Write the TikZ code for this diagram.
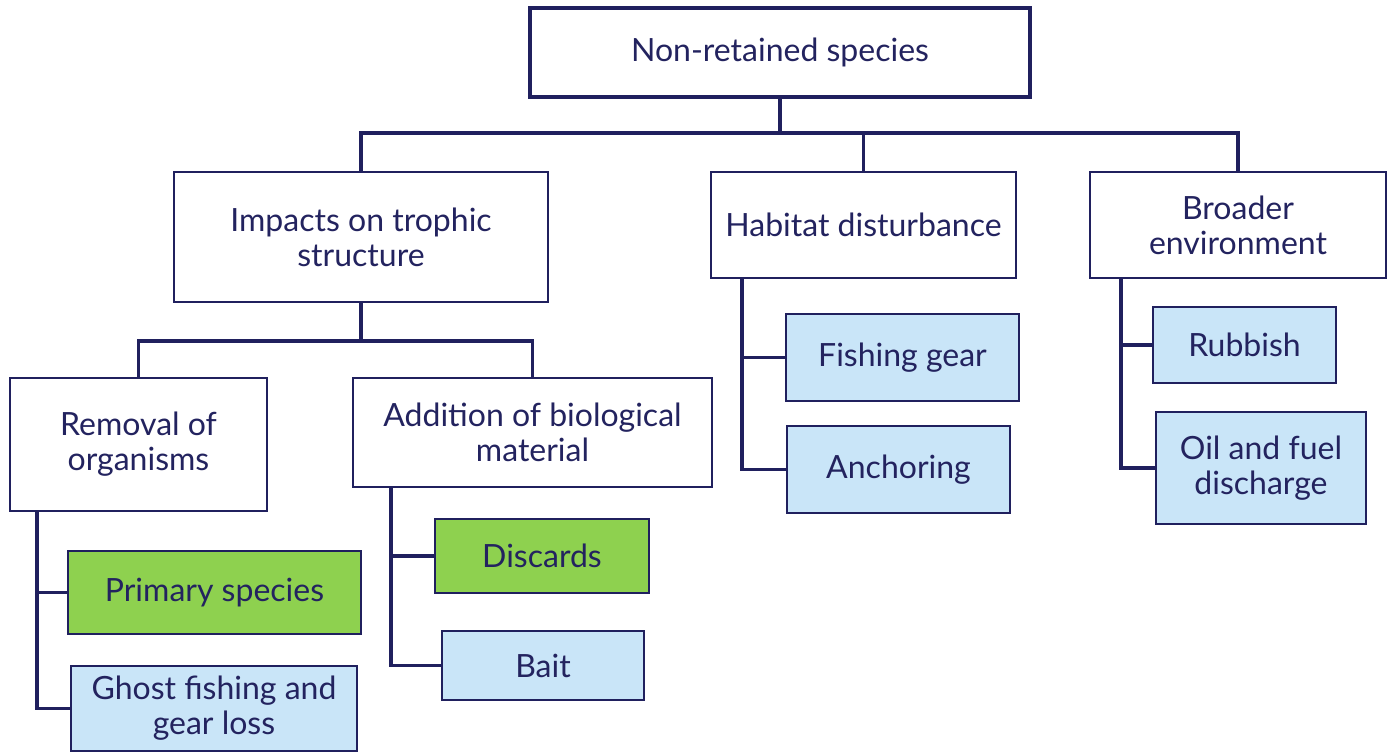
\documentclass[tikz,border=0pt]{standalone}
\usepackage{fontspec}
\setmainfont{Lato}
\definecolor{navy}{HTML}{20205E}
\definecolor{txt}{HTML}{23235F}
\definecolor{lgreen}{HTML}{8ED14F}
\definecolor{lblue}{HTML}{C9E5F8}
\tikzset{
  box/.style={draw=navy, line width=1.2pt, fill=white, inner sep=0pt, outer sep=0pt,
    align=center, text=txt, font=\fontsize{16}{17.5}\selectfont},
  gbox/.style={box, fill=lgreen},
  bbox/.style={box, fill=lblue},
  conn/.style={draw=navy, line width=1.7pt}
}
\begin{document}
\begin{tikzpicture}[x=0.5pt, y=-0.5pt]
\useasboundingbox (0,0) rectangle (1392,753);
\node[box, line width=1.6pt, minimum width=250pt, minimum height=44.5pt] (root) at (780,52.5) {Non-retained species};
\node[box, minimum width=187pt, minimum height=65pt] (imp) at (361,237) {Impacts on trophic\\structure};
\node[box, minimum width=152.5pt, minimum height=53pt] (hab) at (863.5,225) {Habitat disturbance};
\node[box, minimum width=148pt, minimum height=53pt] (bro) at (1238,225) {Broader\\environment};
\node[box, minimum width=128.5pt, minimum height=66.5pt] (rem) at (138.5,444.5) {Removal of\\organisms};
\node[box, minimum width=179.5pt, minimum height=54.5pt] (add) at (532.5,432.5) {Addition of biological\\material};
\node[gbox, minimum width=146.5pt, minimum height=41.5pt] (prim) at (214.5,592.5) {Primary species};
\node[bbox, minimum width=143pt, minimum height=42.5pt] (ghost) at (214,708.5) {Ghost fishing and\\gear loss};
\node[gbox, minimum width=107pt, minimum height=37pt] (disc) at (542,556) {Discards};
\node[bbox, minimum width=101pt, minimum height=34.5pt] (bait) at (543,665.5) {Bait};
\node[bbox, minimum width=116.5pt, minimum height=43.5pt] (fgear) at (902.5,357.5) {Fishing gear};
\node[bbox, minimum width=111.5pt, minimum height=43.5pt] (anch) at (898.5,469.5) {Anchoring};
\node[bbox, minimum width=91.5pt, minimum height=38pt] (rub) at (1244.5,345) {Rubbish};
\node[bbox, minimum width=105pt, minimum height=56pt] (oil) at (1261,468) {Oil and fuel\\discharge};

\coordinate (j1) at (780,133);
\draw[conn] (root.south) -- (j1);
\draw[conn] (imp.north) |- (bro.north |- j1) -- (bro.north);
\draw[conn] (hab.north) -- (hab.north |- j1);

\coordinate (j2) at (361,341);
\draw[conn] (imp.south) -- (j2);
\draw[conn] (rem.north) |- (add.north |- j2) -- (add.north);

\coordinate (rv) at (37,511);
\draw[conn] (rv) |- (ghost.west);
\draw[conn] (prim.west) -- (prim.west -| rv);

\coordinate (av) at (391,487);
\draw[conn] (av) |- (bait.west);
\draw[conn] (disc.west) -- (disc.west -| av);

\coordinate (hv) at (742,278);
\draw[conn] (hv) |- (anch.west);
\draw[conn] (fgear.west) -- (fgear.west -| hv);

\coordinate (bv) at (1121,278);
\draw[conn] (bv) |- (oil.west);
\draw[conn] (rub.west) -- (rub.west -| bv);
\end{tikzpicture}
\end{document}
